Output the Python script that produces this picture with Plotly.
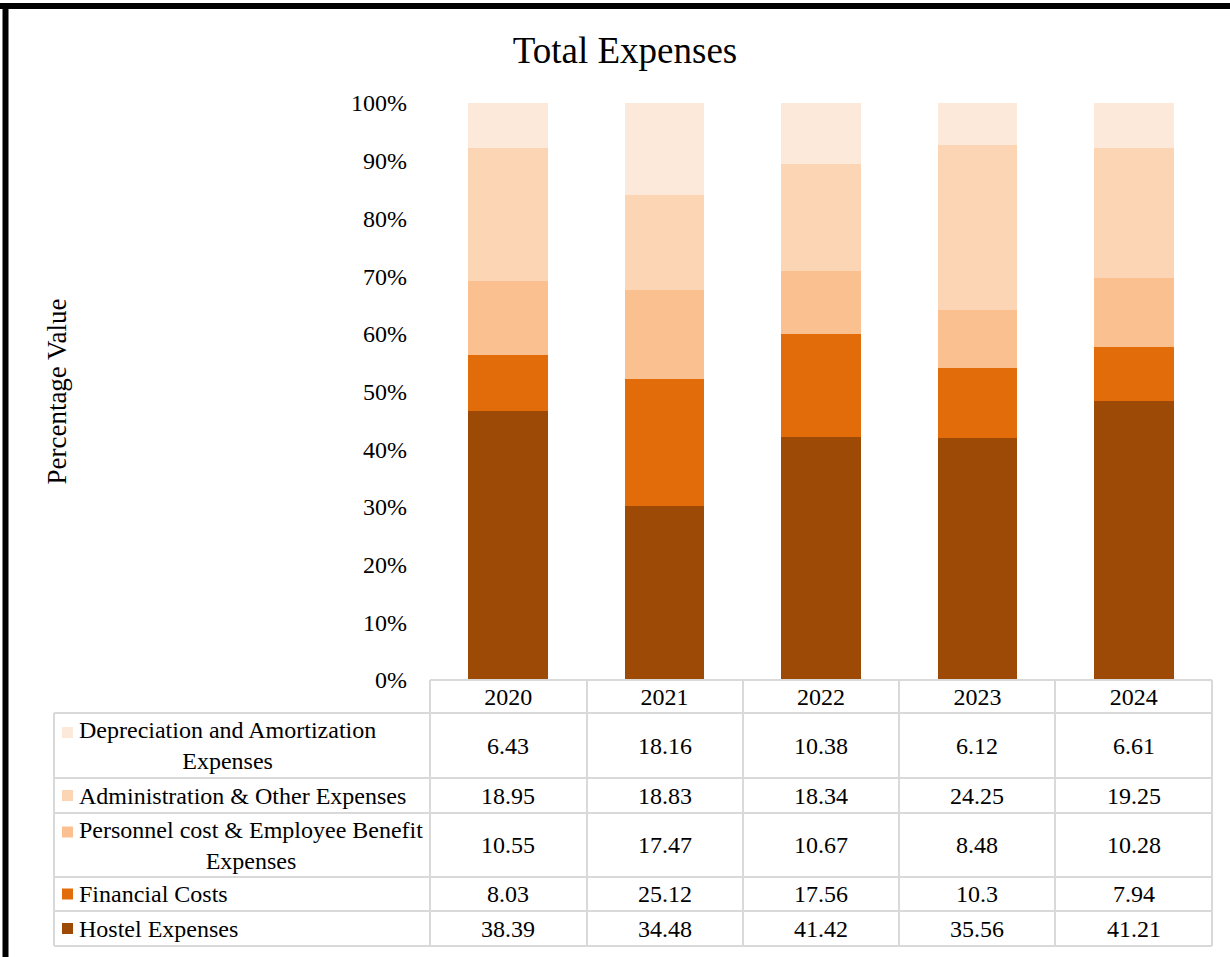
import plotly.graph_objects as go

years = ["2020", "2021", "2022", "2023", "2024"]
series_names = [
    "Hostel Expenses",
    "Financial Costs",
    "Personnel cost & Employee Benefit<br>Expenses",
    "Administration & Other Expenses",
    "Depreciation and Amortization<br>Expenses",
]
hostel = [38.39, 34.48, 41.42, 35.56, 41.21]
financial = [8.03, 25.12, 17.56, 10.3, 7.94]
personnel = [10.55, 17.47, 10.67, 8.48, 10.28]
admin = [18.95, 18.83, 18.34, 24.25, 19.25]
depreciation = [6.43, 18.16, 10.38, 6.12, 6.61]
series_values = [hostel, financial, personnel, admin, depreciation]
colors = ["#9C4A06", "#E36C0A", "#FAC090", "#FCD5B5", "#FDE9D9"]
y_ticks = list(range(0, 101, 10))

FONT = "Liberation Serif, Times New Roman, serif"
FS = 24
W, H = 1230, 957
L, R, T, B = 430, 18, 103, 277
PW = W - L - R
PH = H - T - B


def px_x(px):
    return (px - L) / PW


def px_y(py):
    return (H - B - py) / PH


fig = go.Figure()
for name, vals, col in zip(series_names, series_values, colors):
    fig.add_trace(go.Bar(x=years, y=vals, name=name, marker=dict(color=col, line=dict(width=0)),
                         showlegend=False))

shapes = []
annotations = []
grid = "#D9D9D9"
row_edges = [713, 778, 813, 877, 911, 946]
col_edges = [430, 587, 743, 899, 1055, 1212]
shapes.append(dict(type="line", xref="paper", yref="paper", x0=px_x(430), x1=px_x(1212),
                   y0=px_y(680), y1=px_y(680), line=dict(color=grid, width=2)))
for ry in row_edges:
    shapes.append(dict(type="line", xref="paper", yref="paper", x0=px_x(54), x1=px_x(1212),
                       y0=px_y(ry), y1=px_y(ry), line=dict(color=grid, width=2)))
for cx in col_edges:
    shapes.append(dict(type="line", xref="paper", yref="paper", x0=px_x(cx), x1=px_x(cx),
                       y0=px_y(680), y1=px_y(946), line=dict(color=grid, width=2)))
shapes.append(dict(type="line", xref="paper", yref="paper", x0=px_x(54), x1=px_x(54),
                   y0=px_y(713), y1=px_y(946), line=dict(color=grid, width=2)))

table_order = list(range(len(series_names)))[::-1]
for i, si in enumerate(table_order):
    top, bot = row_edges[i], row_edges[i + 1]
    cy = (top + bot) / 2
    two_line = "<br>" in series_names[si]
    key_cy = cy - 13 if two_line else cy
    shapes.append(dict(type="rect", xref="paper", yref="paper",
                       x0=px_x(62), x1=px_x(73), y0=px_y(key_cy - 5.5), y1=px_y(key_cy + 5.5),
                       fillcolor=colors[si], line=dict(width=0)))
    annotations.append(dict(text=series_names[si], xref="paper", yref="paper",
                            x=px_x(77), y=px_y(cy), xanchor="left", yanchor="middle",
                            align="center", showarrow=False,
                            font=dict(family=FONT, size=FS, color="#000000")))
    for j, v in enumerate(series_values[si]):
        annotations.append(dict(text=f"{v:g}", xref="x", yref="paper", x=j, y=px_y(cy),
                                xanchor="center", yanchor="middle", showarrow=False,
                                font=dict(family=FONT, size=FS, color="#000000")))

shapes.append(dict(type="line", xref="paper", yref="paper", x0=px_x(5.5), x1=px_x(5.5),
                   y0=px_y(3), y1=px_y(960), line=dict(color="#000000", width=6)))
shapes.append(dict(type="line", xref="paper", yref="paper", x0=px_x(0), x1=px_x(1235),
                   y0=px_y(6), y1=px_y(6), line=dict(color="#000000", width=6)))

fig.update_layout(
    width=W, height=H,
    margin=dict(l=L, r=R, t=T, b=B),
    paper_bgcolor="#FFFFFF", plot_bgcolor="#FFFFFF",
    barmode="stack", barnorm="percent", bargap=0.49,
    title=dict(text="Total Expenses", x=625 / W, xref="container", xanchor="center",
               y=1 - 50 / H, yref="container", yanchor="middle",
               font=dict(family=FONT, size=37, color="#000000")),
    font=dict(family=FONT, color="#000000"),
    shapes=shapes, annotations=annotations,
)
fig.update_xaxes(type="category", range=[-0.5, 4.5], showgrid=False, showline=False,
                 zeroline=False, ticks="", tickfont=dict(family=FONT, size=FS, color="#000000"),
                 ticklabelstandoff=0)
fig.update_yaxes(range=[0, 100], tickvals=y_ticks, ticktext=[f"{v}%" for v in y_ticks],
                 showgrid=False, showline=False, zeroline=False, ticks="",
                 tickfont=dict(family=FONT, size=FS, color="#000000"), ticklabelstandoff=22,
                 title=dict(text="Percentage Value", standoff=276,
                            font=dict(family=FONT, size=27, color="#000000")))

fig.write_html("out.html")
